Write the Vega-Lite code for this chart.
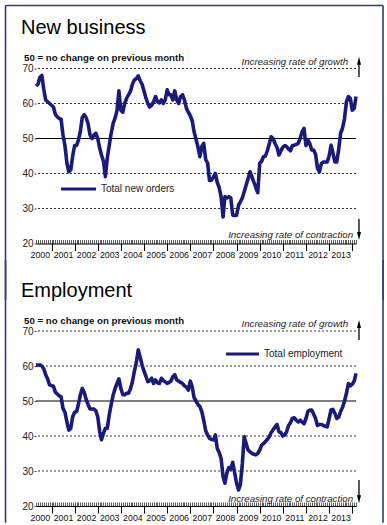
{
  "$schema": "https://vega.github.io/schema/vega-lite/v6.json",
  "background": "white",
  "padding": {"left": 4, "top": 4.5, "right": 3, "bottom": 0},
  "bounds": "flush",
  "spacing": 87.5,
  "config": {
    "font": "Liberation Sans",
    "view": {"stroke": null},
    "axisY": {"domain": false, "ticks": true, "tickSize": 2, "tickColor": "#444", "grid": false, "labelFontSize": 10, "labelPadding": 1, "labelColor": "#222", "tickCount": 5},
    "axisX": {"grid": false},
    "title": {"anchor": "start", "frame": "group", "fontSize": 20, "fontWeight": "normal", "color": "#000", "dx": -15}
  },
  "datasets": {
    "pmi": [
      {"d":"2000-05-01","o":65,"e":60.3},{"d":"2000-06-01","o":65.5,"e":60.3},{"d":"2000-07-01","o":67.5,"e":60.3},{"d":"2000-08-01","o":68,"e":60},{"d":"2000-09-01","o":64,"e":59.2},{"d":"2000-10-01","o":61,"e":57.5},{"d":"2000-11-01","o":60.5,"e":56.3},{"d":"2000-12-01","o":60,"e":54.6},
      {"d":"2001-01-01","o":59.5,"e":54.4},{"d":"2001-02-01","o":59,"e":54.2},{"d":"2001-03-01","o":57,"e":52.6},{"d":"2001-04-01","o":56.2,"e":52},{"d":"2001-05-01","o":55.7,"e":51.5},{"d":"2001-06-01","o":55.5,"e":51.2},{"d":"2001-07-01","o":51,"e":47.9},{"d":"2001-08-01","o":48,"e":46.8},{"d":"2001-09-01","o":43,"e":44},{"d":"2001-10-01","o":40.5,"e":41.7},{"d":"2001-11-01","o":41,"e":42.2},{"d":"2001-12-01","o":45,"e":45.5},
      {"d":"2002-01-01","o":48,"e":46.8},{"d":"2002-02-01","o":48,"e":47},{"d":"2002-03-01","o":49.5,"e":49},{"d":"2002-04-01","o":52,"e":51.7},{"d":"2002-05-01","o":56,"e":53.6},{"d":"2002-06-01","o":56.8,"e":52.5},{"d":"2002-07-01","o":56,"e":50.5},{"d":"2002-08-01","o":54.3,"e":49},{"d":"2002-09-01","o":51,"e":47.7},{"d":"2002-10-01","o":50,"e":47.7},{"d":"2002-11-01","o":51,"e":47.7},{"d":"2002-12-01","o":51.5,"e":47.2},
      {"d":"2003-01-01","o":50,"e":45.5},{"d":"2003-02-01","o":47.2,"e":41.2},{"d":"2003-03-01","o":45.3,"e":38.9},{"d":"2003-04-01","o":43.5,"e":40.8},{"d":"2003-05-01","o":39.1,"e":42.2},{"d":"2003-06-01","o":44.5,"e":42.2},{"d":"2003-07-01","o":48,"e":46},{"d":"2003-08-01","o":51.5,"e":49},{"d":"2003-09-01","o":54.3,"e":51.7},{"d":"2003-10-01","o":55.8,"e":53.5},{"d":"2003-11-01","o":58,"e":55},{"d":"2003-12-01","o":63.6,"e":56.3},
      {"d":"2004-01-01","o":58.1,"e":53.6},{"d":"2004-02-01","o":57.5,"e":51.8},{"d":"2004-03-01","o":60,"e":51.8},{"d":"2004-04-01","o":61.5,"e":52.2},{"d":"2004-05-01","o":62.5,"e":52.2},{"d":"2004-06-01","o":63.5,"e":53.5},{"d":"2004-07-01","o":65.5,"e":55.5},{"d":"2004-08-01","o":66.7,"e":58.5},{"d":"2004-09-01","o":67.1,"e":61},{"d":"2004-10-01","o":67.9,"e":64.6},{"d":"2004-11-01","o":66.5,"e":62.5},{"d":"2004-12-01","o":65.5,"e":60.3},
      {"d":"2005-01-01","o":63.5,"e":58.5},{"d":"2005-02-01","o":61.5,"e":57},{"d":"2005-03-01","o":60,"e":55.5},{"d":"2005-04-01","o":59,"e":55.8},{"d":"2005-05-01","o":59.5,"e":56.5},{"d":"2005-06-01","o":60.5,"e":55},{"d":"2005-07-01","o":62,"e":56},{"d":"2005-08-01","o":60.5,"e":55.2},{"d":"2005-09-01","o":60.2,"e":55},{"d":"2005-10-01","o":61,"e":56.5},{"d":"2005-11-01","o":60,"e":55.8},{"d":"2005-12-01","o":61,"e":55.5},
      {"d":"2006-01-01","o":63.9,"e":55},{"d":"2006-02-01","o":62.5,"e":55.3},{"d":"2006-03-01","o":62.5,"e":55.7},{"d":"2006-04-01","o":61,"e":57},{"d":"2006-05-01","o":63.6,"e":57.5},{"d":"2006-06-01","o":61,"e":56},{"d":"2006-07-01","o":60,"e":55.7},{"d":"2006-08-01","o":62,"e":55.3},{"d":"2006-09-01","o":62.5,"e":55},{"d":"2006-10-01","o":61,"e":54.3},{"d":"2006-11-01","o":58.6,"e":54},{"d":"2006-12-01","o":57.5,"e":53.1},
      {"d":"2007-01-01","o":56.5,"e":55.7},{"d":"2007-02-01","o":55,"e":54},{"d":"2007-03-01","o":52,"e":51},{"d":"2007-04-01","o":49.8,"e":50},{"d":"2007-05-01","o":47.7,"e":49},{"d":"2007-06-01","o":44.8,"e":48.4},{"d":"2007-07-01","o":47.7,"e":47},{"d":"2007-08-01","o":48.6,"e":44.5},{"d":"2007-09-01","o":44,"e":41.5},{"d":"2007-10-01","o":43,"e":40.3},{"d":"2007-11-01","o":38,"e":39.3},{"d":"2007-12-01","o":38.1,"e":39},
      {"d":"2008-01-01","o":39,"e":38.9},{"d":"2008-02-01","o":40,"e":40.3},{"d":"2008-03-01","o":37.5,"e":36.5},{"d":"2008-04-01","o":36,"e":35.3},{"d":"2008-05-01","o":33.4,"e":33.6},{"d":"2008-06-01","o":27.6,"e":28.5},{"d":"2008-07-01","o":33.4,"e":26.5},{"d":"2008-08-01","o":33,"e":29.5},{"d":"2008-09-01","o":33.4,"e":31},{"d":"2008-10-01","o":33,"e":30.5},{"d":"2008-11-01","o":28.1,"e":32.5},{"d":"2008-12-01","o":28,"e":29.5},
      {"d":"2009-01-01","o":28.1,"e":26.5},{"d":"2009-02-01","o":31,"e":24.6},{"d":"2009-03-01","o":31.9,"e":26},{"d":"2009-04-01","o":33,"e":32},{"d":"2009-05-01","o":34.8,"e":39.8},{"d":"2009-06-01","o":36.7,"e":37.8},{"d":"2009-07-01","o":38.5,"e":36},{"d":"2009-08-01","o":40.5,"e":35.5},{"d":"2009-09-01","o":39,"e":35},{"d":"2009-10-01","o":37.5,"e":34.8},{"d":"2009-11-01","o":36,"e":34.6},{"d":"2009-12-01","o":34.5,"e":35},
      {"d":"2010-01-01","o":42.9,"e":36},{"d":"2010-02-01","o":43.5,"e":37.4},{"d":"2010-03-01","o":44.8,"e":37.8},{"d":"2010-04-01","o":45,"e":38.4},{"d":"2010-05-01","o":46.5,"e":39},{"d":"2010-06-01","o":48.5,"e":39.8},{"d":"2010-07-01","o":50.5,"e":41},{"d":"2010-08-01","o":50,"e":41.8},{"d":"2010-09-01","o":48.5,"e":42.6},{"d":"2010-10-01","o":47.5,"e":43.3},{"d":"2010-11-01","o":45.3,"e":41.2},{"d":"2010-12-01","o":46.5,"e":41},
      {"d":"2011-01-01","o":47.5,"e":40},{"d":"2011-02-01","o":48,"e":40.3},{"d":"2011-03-01","o":47.7,"e":41.2},{"d":"2011-04-01","o":47,"e":43},{"d":"2011-05-01","o":46.5,"e":43.8},{"d":"2011-06-01","o":48,"e":45.1},{"d":"2011-07-01","o":48.1,"e":45.2},{"d":"2011-08-01","o":48.3,"e":44.5},{"d":"2011-09-01","o":48.6,"e":44},{"d":"2011-10-01","o":50,"e":44.5},{"d":"2011-11-01","o":51.9,"e":44},{"d":"2011-12-01","o":52.9,"e":43.5},
      {"d":"2012-01-01","o":48,"e":45},{"d":"2012-02-01","o":49.5,"e":47},{"d":"2012-03-01","o":48.6,"e":47.4},{"d":"2012-04-01","o":46.7,"e":47.4},{"d":"2012-05-01","o":46.7,"e":46.3},{"d":"2012-06-01","o":45.5,"e":45},{"d":"2012-07-01","o":41.5,"e":43},{"d":"2012-08-01","o":40.5,"e":43.3},{"d":"2012-09-01","o":42.9,"e":43.3},{"d":"2012-10-01","o":43.3,"e":43},{"d":"2012-11-01","o":43.3,"e":42.8},{"d":"2012-12-01","o":43.3,"e":42.6},
      {"d":"2013-01-01","o":45,"e":45},{"d":"2013-02-01","o":48.1,"e":47.5},{"d":"2013-03-01","o":46,"e":47.6},{"d":"2013-04-01","o":43.3,"e":46.5},{"d":"2013-05-01","o":43.3,"e":45},{"d":"2013-06-01","o":47,"e":45.4},{"d":"2013-07-01","o":51.5,"e":47},{"d":"2013-08-01","o":53,"e":48.2},{"d":"2013-09-01","o":55.7,"e":50},{"d":"2013-10-01","o":60.5,"e":52.2},{"d":"2013-11-01","o":62,"e":55},{"d":"2013-12-01","o":61.5,"e":54.3},
      {"d":"2014-01-01","o":58.1,"e":54.8},{"d":"2014-02-01","o":58.6,"e":55.7},{"d":"2014-03-01","o":62,"e":57.9}
    ]
  },
  "vconcat": [
    {
      "title": {"text": "New business", "offset": -32.8},
      "width": 320,
      "height": 175,
      "resolve": {"axis": {"x": "independent"}},
      "layer": [
        {"data": {"values": [{"d":"1999-01-06","d2":"2015-05-02","v":88,"v2":88},{"d":"1999-01-06","d2":"1999-01-06","v":88,"v2":3.9},{"d":"2015-05-02","d2":"2015-05-02","v":88,"v2":3.9}]}, "mark": {"type": "rule", "color": "#2f4172", "strokeWidth": 1.6},
         "encoding": {
           "x": {"field": "d", "type": "temporal", "title": null, "axis": null, "scale": {"type": "utc", "nice": false, "domain": [{"year":2000,"month":5,"date":1,"utc":true},{"year":2014,"month":3,"date":1,"utc":true}]}},
           "x2": {"field": "d2"},
           "y": {"field": "v", "type": "quantitative", "title": null, "scale": {"domain": [20,70], "nice": false, "zero": false}},
           "y2": {"field": "v2"}}},
        {"data": {"values": [{"v":30},{"v":40},{"v":60},{"v":70}]}, "mark": {"type": "rule", "strokeDash": [2,2], "color": "#333", "strokeWidth": 1}, "encoding": {"y": {"field": "v", "type": "quantitative", "title": null, "scale": {"domain": [20,70], "nice": false, "zero": false}}}},
        {"data": {"values": [{"v":50}]}, "mark": {"type": "rule", "color": "#000", "strokeWidth": 1.2}, "encoding": {"y": {"field": "v", "type": "quantitative", "title": null, "scale": {"domain": [20,70], "nice": false, "zero": false}}}},
        {"data": {"name": "pmi"}, "mark": {"type": "line", "color": "#1a1a78", "strokeWidth": 3.6, "strokeJoin": "round"},
         "encoding": {
           "x": {"field": "d", "type": "temporal", "title": null, "scale": {"type": "utc", "nice": false, "domain": [{"year":2000,"month":5,"date":1,"utc":true},{"year":2014,"month":3,"date":1,"utc":true}]},
                 "axis": {"orient": "bottom", "offset": -4, "tickCount": {"interval": "month", "step": 1}, "labels": false, "tickSize": 4, "tickColor": "#333", "tickWidth": 0.8, "domain": false, "grid": false}},
           "y": {"field": "o", "type": "quantitative", "title": null, "scale": {"domain": [20,70], "nice": false, "zero": false}}}},
        {"data": {"values": [{"d":"2001-06-01","v":35.6},{"d":"2002-12-05","v":35.6}]}, "mark": {"type": "line", "color": "#1a1a78", "strokeWidth": 3},
         "encoding": {
           "x": {"field": "d", "type": "temporal", "title": null, "scale": {"type": "utc", "nice": false, "domain": [{"year":2000,"month":5,"date":1,"utc":true},{"year":2014,"month":3,"date":1,"utc":true}]},
                 "axis": {"orient": "bottom", "tickCount": {"interval": "year", "step": 1}, "labels": false, "tickSize": 7, "tickColor": "#000", "domain": true, "domainColor": "#000", "domainWidth": 1.2, "grid": false}},
           "y": {"field": "v", "type": "quantitative", "title": null, "scale": {"domain": [20,70], "nice": false, "zero": false}}}},
        {"data": {"values": [{"d":"1999-10-25","v":73.0,"t":"50 = no change on previous month"}]}, "mark": {"type": "text", "align": "left", "baseline": "middle", "fontSize": 9.7, "fontWeight": "bold", "color": "#111"},
         "encoding": {
           "x": {"field": "d", "type": "temporal", "title": null, "scale": {"type": "utc", "nice": false, "domain": [{"year":2000,"month":5,"date":1,"utc":true},{"year":2014,"month":3,"date":1,"utc":true}]},
                 "axis": {"orient": "bottom", "values": [{"year":2000,"month":7,"date":1,"utc":true},{"year":2001,"month":7,"date":1,"utc":true},{"year":2002,"month":7,"date":1,"utc":true},{"year":2003,"month":7,"date":1,"utc":true},{"year":2004,"month":7,"date":1,"utc":true},{"year":2005,"month":7,"date":1,"utc":true},{"year":2006,"month":7,"date":1,"utc":true},{"year":2007,"month":7,"date":1,"utc":true},{"year":2008,"month":7,"date":1,"utc":true},{"year":2009,"month":7,"date":1,"utc":true},{"year":2010,"month":7,"date":1,"utc":true},{"year":2011,"month":7,"date":1,"utc":true},{"year":2012,"month":7,"date":1,"utc":true},{"year":2013,"month":7,"date":1,"utc":true}],
                          "format": "%Y", "ticks": false, "tickSize": 0, "domain": false, "grid": false, "labelFontSize": 8.8, "labelPadding": 7, "labelColor": "#111", "labelFlush": false, "labelOverlap": false}},
           "y": {"field": "v", "type": "quantitative", "title": null, "scale": {"domain": [20,70], "nice": false, "zero": false}},
           "text": {"field": "t"}}},
        {"data": {"values": [{"d":"2003-02-20","v":35.6,"t":"Total new orders"}]}, "mark": {"type": "text", "align": "left", "baseline": "middle", "fontSize": 10, "color": "#222"},
         "encoding": {
           "x": {"field": "d", "type": "temporal", "title": null, "axis": null, "scale": {"type": "utc", "nice": false, "domain": [{"year":2000,"month":5,"date":1,"utc":true},{"year":2014,"month":3,"date":1,"utc":true}]}},
           "y": {"field": "v", "type": "quantitative", "title": null, "scale": {"domain": [20,70], "nice": false, "zero": false}},
           "text": {"field": "t"}}},
        {"data": {"values": [{"d":"2013-10-27","v":71.9,"t":"Increasing rate of growth"},{"d":"2014-01-14","v":22.4,"t":"Increasing rate of contraction"}]}, "mark": {"type": "text", "align": "right", "baseline": "middle", "fontSize": 9.7, "fontStyle": "italic", "color": "#222"},
         "encoding": {
           "x": {"field": "d", "type": "temporal", "title": null, "axis": null, "scale": {"type": "utc", "nice": false, "domain": [{"year":2000,"month":5,"date":1,"utc":true},{"year":2014,"month":3,"date":1,"utc":true}]}},
           "y": {"field": "v", "type": "quantitative", "title": null, "scale": {"domain": [20,70], "nice": false, "zero": false}},
           "text": {"field": "t"}}},
        {"data": {"values": [{"d":"2014-04-17","v":67.6,"v2":72.2},{"d":"2014-04-17","v":27.1,"v2":22.2}]}, "mark": {"type": "rule", "color": "#000", "strokeWidth": 1.3},
         "encoding": {
           "x": {"field": "d", "type": "temporal", "title": null, "axis": null, "scale": {"type": "utc", "nice": false, "domain": [{"year":2000,"month":5,"date":1,"utc":true},{"year":2014,"month":3,"date":1,"utc":true}]}},
           "y": {"field": "v", "type": "quantitative", "title": null, "scale": {"domain": [20,70], "nice": false, "zero": false}},
           "y2": {"field": "v2"}}},
        {"data": {"values": [{"d":"2014-04-17","v":71.9,"s":"M0,-1L0.4,0.6L-0.4,0.6Z"},{"d":"2014-04-17","v":22.4,"s":"M0,1L0.4,-0.6L-0.4,-0.6Z"}]}, "mark": {"type": "point", "filled": true, "color": "#000", "opacity": 1, "size": 100},
         "encoding": {
           "x": {"field": "d", "type": "temporal", "title": null, "axis": null, "scale": {"type": "utc", "nice": false, "domain": [{"year":2000,"month":5,"date":1,"utc":true},{"year":2014,"month":3,"date":1,"utc":true}]}},
           "y": {"field": "v", "type": "quantitative", "title": null, "scale": {"domain": [20,70], "nice": false, "zero": false}},
           "shape": {"field": "s", "type": "nominal", "scale": null}}}
      ]
    },
    {
      "title": {"text": "Employment", "offset": -41.8},
      "width": 320,
      "height": 175,
      "resolve": {"axis": {"x": "independent"}},
      "layer": [
        {"data": {"values": [{"d":"1999-01-06","d2":"1999-01-06","v":90.3,"v2":15.2},{"d":"2015-05-02","d2":"2015-05-02","v":90.3,"v2":15.2}]}, "mark": {"type": "rule", "color": "#2f4172", "strokeWidth": 1.6},
         "encoding": {
           "x": {"field": "d", "type": "temporal", "title": null, "axis": null, "scale": {"type": "utc", "nice": false, "domain": [{"year":2000,"month":5,"date":1,"utc":true},{"year":2014,"month":3,"date":1,"utc":true}]}},
           "x2": {"field": "d2"},
           "y": {"field": "v", "type": "quantitative", "title": null, "scale": {"domain": [20,70], "nice": false, "zero": false}},
           "y2": {"field": "v2"}}},
        {"data": {"values": [{"v":30},{"v":40},{"v":60},{"v":70}]}, "mark": {"type": "rule", "strokeDash": [2,2], "color": "#333", "strokeWidth": 1}, "encoding": {"y": {"field": "v", "type": "quantitative", "title": null, "scale": {"domain": [20,70], "nice": false, "zero": false}}}},
        {"data": {"values": [{"v":50}]}, "mark": {"type": "rule", "color": "#000", "strokeWidth": 1.2}, "encoding": {"y": {"field": "v", "type": "quantitative", "title": null, "scale": {"domain": [20,70], "nice": false, "zero": false}}}},
        {"data": {"name": "pmi"}, "mark": {"type": "line", "color": "#1a1a78", "strokeWidth": 3.6, "strokeJoin": "round"},
         "encoding": {
           "x": {"field": "d", "type": "temporal", "title": null, "scale": {"type": "utc", "nice": false, "domain": [{"year":2000,"month":5,"date":1,"utc":true},{"year":2014,"month":3,"date":1,"utc":true}]},
                 "axis": {"orient": "bottom", "offset": -4, "tickCount": {"interval": "month", "step": 1}, "labels": false, "tickSize": 4, "tickColor": "#333", "tickWidth": 0.8, "domain": false, "grid": false}},
           "y": {"field": "e", "type": "quantitative", "title": null, "scale": {"domain": [20,70], "nice": false, "zero": false}}}},
        {"data": {"values": [{"d":"2008-07-19","v":63.4},{"d":"2009-12-22","v":63.4}]}, "mark": {"type": "line", "color": "#1a1a78", "strokeWidth": 3},
         "encoding": {
           "x": {"field": "d", "type": "temporal", "title": null, "scale": {"type": "utc", "nice": false, "domain": [{"year":2000,"month":5,"date":1,"utc":true},{"year":2014,"month":3,"date":1,"utc":true}]},
                 "axis": {"orient": "bottom", "tickCount": {"interval": "year", "step": 1}, "labels": false, "tickSize": 7, "tickColor": "#000", "domain": true, "domainColor": "#000", "domainWidth": 1.2, "grid": false}},
           "y": {"field": "v", "type": "quantitative", "title": null, "scale": {"domain": [20,70], "nice": false, "zero": false}}}},
        {"data": {"values": [{"d":"1999-10-25","v":73.0,"t":"50 = no change on previous month"}]}, "mark": {"type": "text", "align": "left", "baseline": "middle", "fontSize": 9.7, "fontWeight": "bold", "color": "#111"},
         "encoding": {
           "x": {"field": "d", "type": "temporal", "title": null, "scale": {"type": "utc", "nice": false, "domain": [{"year":2000,"month":5,"date":1,"utc":true},{"year":2014,"month":3,"date":1,"utc":true}]},
                 "axis": {"orient": "bottom", "values": [{"year":2000,"month":7,"date":1,"utc":true},{"year":2001,"month":7,"date":1,"utc":true},{"year":2002,"month":7,"date":1,"utc":true},{"year":2003,"month":7,"date":1,"utc":true},{"year":2004,"month":7,"date":1,"utc":true},{"year":2005,"month":7,"date":1,"utc":true},{"year":2006,"month":7,"date":1,"utc":true},{"year":2007,"month":7,"date":1,"utc":true},{"year":2008,"month":7,"date":1,"utc":true},{"year":2009,"month":7,"date":1,"utc":true},{"year":2010,"month":7,"date":1,"utc":true},{"year":2011,"month":7,"date":1,"utc":true},{"year":2012,"month":7,"date":1,"utc":true},{"year":2013,"month":7,"date":1,"utc":true}],
                          "format": "%Y", "ticks": false, "tickSize": 0, "domain": false, "grid": false, "labelFontSize": 8.8, "labelPadding": 7, "labelColor": "#111", "labelFlush": false, "labelOverlap": false}},
           "y": {"field": "v", "type": "quantitative", "title": null, "scale": {"domain": [20,70], "nice": false, "zero": false}},
           "text": {"field": "t"}}},
        {"data": {"values": [{"d":"2010-03-10","v":63.4,"t":"Total employment"}]}, "mark": {"type": "text", "align": "left", "baseline": "middle", "fontSize": 10, "color": "#222"},
         "encoding": {
           "x": {"field": "d", "type": "temporal", "title": null, "axis": null, "scale": {"type": "utc", "nice": false, "domain": [{"year":2000,"month":5,"date":1,"utc":true},{"year":2014,"month":3,"date":1,"utc":true}]}},
           "y": {"field": "v", "type": "quantitative", "title": null, "scale": {"domain": [20,70], "nice": false, "zero": false}},
           "text": {"field": "t"}}},
        {"data": {"values": [{"d":"2013-10-27","v":71.9,"t":"Increasing rate of growth"},{"d":"2014-01-14","v":22.1,"t":"Increasing rate of contraction"}]}, "mark": {"type": "text", "align": "right", "baseline": "middle", "fontSize": 9.7, "fontStyle": "italic", "color": "#222"},
         "encoding": {
           "x": {"field": "d", "type": "temporal", "title": null, "axis": null, "scale": {"type": "utc", "nice": false, "domain": [{"year":2000,"month":5,"date":1,"utc":true},{"year":2014,"month":3,"date":1,"utc":true}]}},
           "y": {"field": "v", "type": "quantitative", "title": null, "scale": {"domain": [20,70], "nice": false, "zero": false}},
           "text": {"field": "t"}}},
        {"data": {"values": [{"d":"2014-04-17","v":67.4,"v2":71.7},{"d":"2014-04-17","v":27.4,"v2":22.2}]}, "mark": {"type": "rule", "color": "#000", "strokeWidth": 1.3},
         "encoding": {
           "x": {"field": "d", "type": "temporal", "title": null, "axis": null, "scale": {"type": "utc", "nice": false, "domain": [{"year":2000,"month":5,"date":1,"utc":true},{"year":2014,"month":3,"date":1,"utc":true}]}},
           "y": {"field": "v", "type": "quantitative", "title": null, "scale": {"domain": [20,70], "nice": false, "zero": false}},
           "y2": {"field": "v2"}}},
        {"data": {"values": [{"d":"2014-04-17","v":71.7,"s":"M0,-1L0.4,0.6L-0.4,0.6Z"},{"d":"2014-04-17","v":22.2,"s":"M0,1L0.4,-0.6L-0.4,-0.6Z"}]}, "mark": {"type": "point", "filled": true, "color": "#000", "opacity": 1, "size": 100},
         "encoding": {
           "x": {"field": "d", "type": "temporal", "title": null, "axis": null, "scale": {"type": "utc", "nice": false, "domain": [{"year":2000,"month":5,"date":1,"utc":true},{"year":2014,"month":3,"date":1,"utc":true}]}},
           "y": {"field": "v", "type": "quantitative", "title": null, "scale": {"domain": [20,70], "nice": false, "zero": false}},
           "shape": {"field": "s", "type": "nominal", "scale": null}}}
      ]
    }
  ]
}
